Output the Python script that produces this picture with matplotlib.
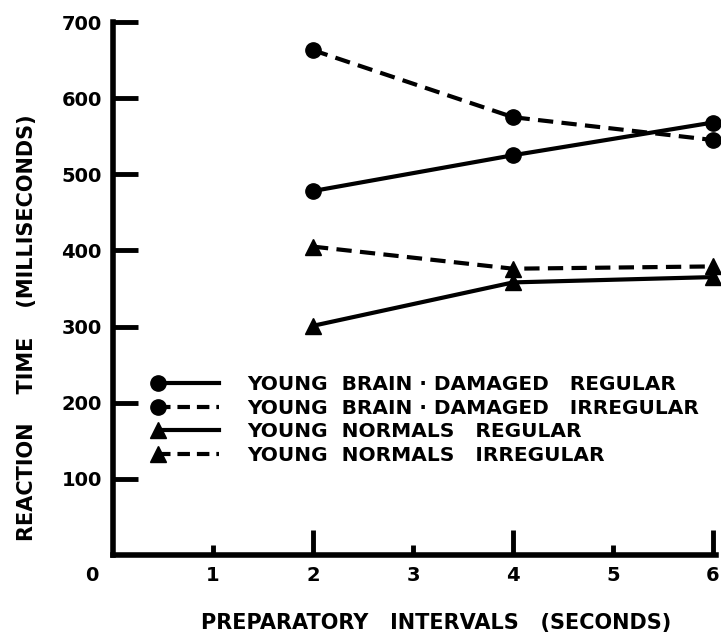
import matplotlib
matplotlib.use("Agg")
import matplotlib.pyplot as plt
from matplotlib.lines import Line2D
from matplotlib.legend_handler import HandlerBase


INTERVALS = [2, 4, 6]
BD_REGULAR = [478, 525, 568]
BD_IRREGULAR = [663, 575, 545]
NORM_REGULAR = [301, 358, 365]
NORM_IRREGULAR = [405, 376, 379]

SERIES = [
    ("YOUNG  BRAIN · DAMAGED   REGULAR", BD_REGULAR, "o", "-"),
    ("YOUNG  BRAIN · DAMAGED   IRREGULAR", BD_IRREGULAR, "o", "--"),
    ("YOUNG  NORMALS   REGULAR", NORM_REGULAR, "^", "-"),
    ("YOUNG  NORMALS   IRREGULAR", NORM_IRREGULAR, "^", "--"),
]

X_TICKS = [1, 2, 3, 4, 5, 6]
Y_TICKS = [100, 200, 300, 400, 500, 600, 700]

DASH = (0, (11, 6))


class MarkerAtLeft(HandlerBase):
    # legend key with the marker at the left end of the line, as in the scan
    def create_artists(self, legend, orig, xdescent, ydescent, width, height, fontsize, trans):
        y = (height - ydescent) / 2.0
        dashed = orig.get_linestyle() not in ("-", "solid")
        line = Line2D([-xdescent + 4, width - xdescent], [y, y], color="black",
                      lw=orig.get_linewidth(), linestyle=(0, (9, 5)) if dashed else "-",
                      transform=trans)
        mark = Line2D([-xdescent + 4], [y], marker=orig.get_marker(), ms=orig.get_markersize(),
                      color="black", linestyle="none", transform=trans)
        return [line, mark]


plt.rcParams["font.family"] = "DejaVu Sans"
plt.rcParams["font.weight"] = "bold"
plt.rcParams["axes.labelweight"] = "bold"
plt.rcParams["lines.scale_dashes"] = False

fig = plt.figure(figsize=(7.21, 6.39), dpi=100)
ax = fig.add_axes([113 / 721, 84 / 639, 603 / 721, 533 / 639])

handles = []
for label, values, marker, style in SERIES:
    ls = DASH if style == "--" else "-"
    (ln,) = ax.plot(INTERVALS, values, color="black", lw=3, linestyle=ls,
                    marker=marker, markersize=11, label=label, clip_on=False)
    handles.append(ln)

ax.set_xlim(0, 6.03)
ax.set_ylim(0, 700)

for side in ("top", "right"):
    ax.spines[side].set_visible(False)
for side in ("left", "bottom"):
    ax.spines[side].set_linewidth(4)
    ax.spines[side].set_capstyle("projecting")

ax.set_xticks(X_TICKS)
ax.set_yticks(Y_TICKS)
ax.tick_params(direction="in", width=3.5, labelsize=14, pad=8)
ax.tick_params(axis="y", length=18)
for tick, x in zip(ax.xaxis.get_major_ticks(), X_TICKS):
    tick.tick1line.set_markersize(18 if x % 2 == 0 else 7)

ax.annotate("0", xy=(0, 0), xytext=(-15, -15), textcoords="offset points",
            ha="center", va="center", fontsize=14)

ax.set_xlabel("PREPARATORY   INTERVALS   (SECONDS)", fontsize=15, va="center")
ax.xaxis.set_label_coords(0.536, -0.128)
fig.text(27 / 721, 1 - 328 / 639, "REACTION    TIME    (MILLISECONDS)", rotation=90,
         ha="center", va="center", fontsize=15)

ax.legend(handles=handles, loc="upper left", bbox_to_anchor=(0.065, 0.337),
          frameon=False, fontsize=14.5, handlelength=3.3, handletextpad=1.4,
          labelspacing=0.22, borderpad=0, borderaxespad=0,
          handler_map={Line2D: MarkerAtLeft()})

fig.savefig("out.png", dpi=100)
